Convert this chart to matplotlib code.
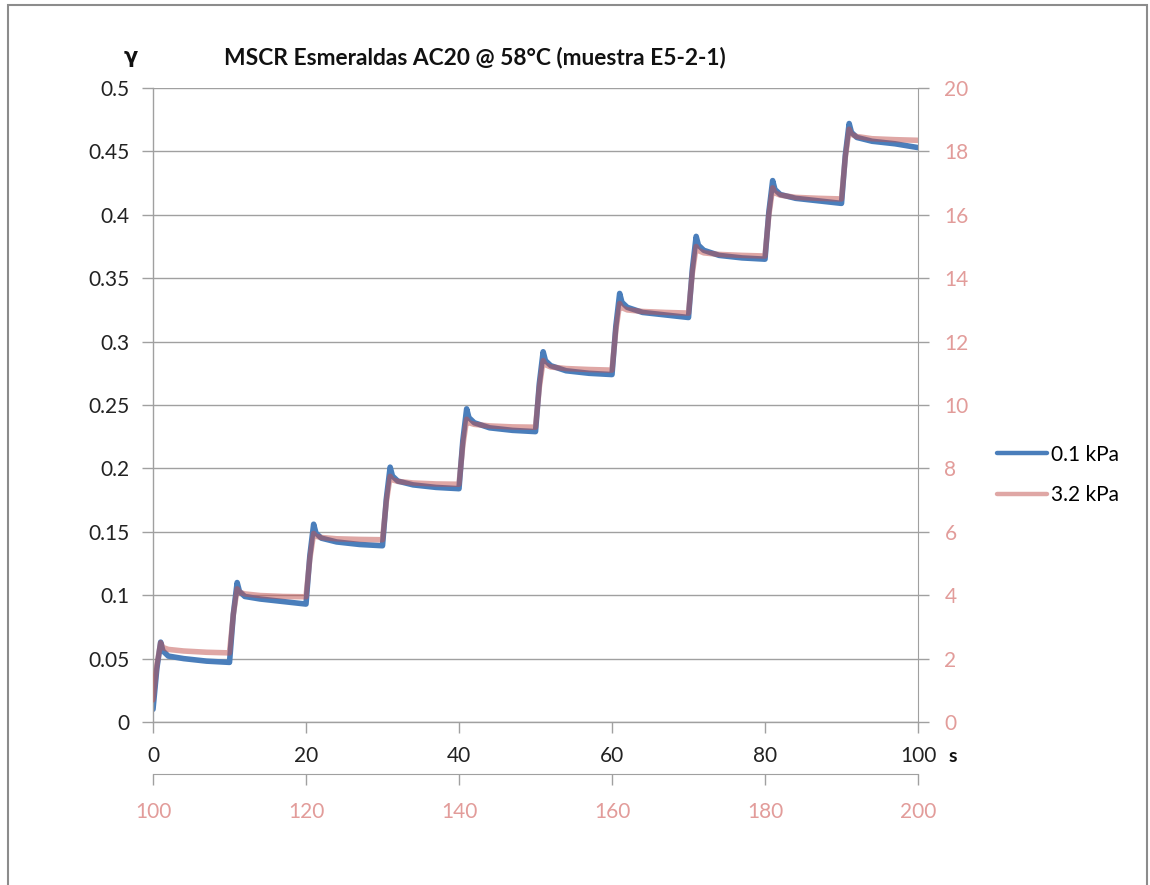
import matplotlib
matplotlib.use("Agg")
import matplotlib.pyplot as plt
from matplotlib.patches import Rectangle
import numpy as np

plt.rcParams['font.family'] = ['Lato', 'DejaVu Sans']

# Sample times inside each 10 s creep/recovery cycle (1 s load, 9 s rest)
cycle_offsets = [0, 0.5, 1.0, 1.3, 2.0, 4.0, 7.0]
cycle_starts_low = [0, 10, 20, 30, 40, 50, 60, 70, 80, 90]
cycle_starts_high = [100, 110, 120, 130, 140, 150, 160, 170, 180, 190]

# Shear strain at 0.1 kPa, one row per cycle
strain_01kpa = [
    [0.010, 0.042, 0.063, 0.056, 0.052, 0.050, 0.048],
    [0.047, 0.085, 0.110, 0.103, 0.099, 0.097, 0.095],
    [0.093, 0.131, 0.156, 0.149, 0.145, 0.142, 0.140],
    [0.139, 0.176, 0.201, 0.194, 0.190, 0.187, 0.185],
    [0.184, 0.222, 0.247, 0.240, 0.236, 0.232, 0.230],
    [0.229, 0.267, 0.292, 0.285, 0.281, 0.277, 0.275],
    [0.274, 0.312, 0.338, 0.331, 0.327, 0.323, 0.321],
    [0.319, 0.357, 0.383, 0.376, 0.372, 0.368, 0.366],
    [0.365, 0.402, 0.427, 0.420, 0.416, 0.413, 0.411],
    [0.409, 0.447, 0.472, 0.465, 0.461, 0.458, 0.456],
]
strain_01kpa_end = 0.453

# Shear strain at 3.2 kPa, one row per cycle
strain_32kpa = [
    [0.70, 1.78, 2.50, 2.35, 2.29, 2.24, 2.20],
    [2.18, 3.39, 4.20, 4.09, 4.04, 3.99, 3.96],
    [3.95, 5.15, 5.95, 5.86, 5.82, 5.78, 5.76],
    [5.75, 6.95, 7.75, 7.64, 7.59, 7.54, 7.51],
    [7.50, 8.73, 9.55, 9.44, 9.39, 9.34, 9.31],
    [9.30, 10.56, 11.40, 11.27, 11.20, 11.15, 11.12],
    [11.10, 12.36, 13.20, 13.07, 13.00, 12.95, 12.92],
    [12.90, 14.16, 15.00, 14.87, 14.80, 14.75, 14.72],
    [14.70, 15.99, 16.85, 16.69, 16.62, 16.55, 16.52],
    [16.50, 17.82, 18.70, 18.54, 18.47, 18.40, 18.37],
]
strain_32kpa_end = 18.35

left_yticks = [0, 0.05, 0.1, 0.15, 0.2, 0.25, 0.3, 0.35, 0.4, 0.45, 0.5]
left_ylabels = ["0", "0.05", "0.1", "0.15", "0.2", "0.25", "0.3", "0.35", "0.4", "0.45", "0.5"]
right_yticks = [0, 2, 4, 6, 8, 10, 12, 14, 16, 18, 20]
low_xticks = [0, 20, 40, 60, 80, 100]
high_xticks = [100, 120, 140, 160, 180, 200]

title = "MSCR Esmeraldas AC20 @ 58°C (muestra E5-2-1)"
label_low = "0.1 kPa"
label_high = "3.2 kPa"

BLUE = "#4A7EBB"
RED = "#C0504D"
PINK_TXT = "#E29C9A"
GRAY = "#A0A0A0"
TXT = "#222222"
TICK_FS = 15


def flatten(starts, rows, end_value):
    t, v = [], []
    for s, row in zip(starts, rows):
        for off, val in zip(cycle_offsets, row):
            t.append(s + off)
            v.append(val)
    t.append(starts[-1] + 10)
    v.append(end_value)
    return np.array(t), np.array(v)


t_low, y_low = flatten(cycle_starts_low, strain_01kpa, strain_01kpa_end)
t_high, y_high = flatten(cycle_starts_high, strain_32kpa, strain_32kpa_end)

W, H = 1150, 885
fig = plt.figure(figsize=(W / 100, H / 100), dpi=100)
rect = [153 / W, 1 - 722 / H, (918 - 153) / W, (722 - 88) / H]

ax = fig.add_axes(rect)
ax2 = fig.add_axes(rect, label="high_stress")
ax2.patch.set_visible(False)

# primary axes: 0.1 kPa
ax.plot(t_low, y_low, color=BLUE, lw=4.0, solid_joinstyle="round",
        solid_capstyle="round", label=label_low)
ax.set_xlim(0, 100)
ax.set_ylim(0, 0.5)
ax.set_yticks(left_yticks)
ax.set_yticklabels(left_ylabels)
ax.set_xticks(low_xticks)
ax.yaxis.grid(True, color=GRAY, lw=1.0)
ax.set_axisbelow(True)
for side in ("top", "right"):
    ax.spines[side].set_visible(False)
for side in ("left", "bottom"):
    ax.spines[side].set_color(GRAY)
    ax.spines[side].set_linewidth(1.0)
ax.tick_params(axis="y", direction="out", length=8, width=1.0, color=GRAY,
               labelsize=TICK_FS, labelcolor=TXT, pad=9)
ax.tick_params(axis="x", direction="out", length=8, width=1.0, color=GRAY,
               labelsize=TICK_FS, labelcolor=TXT, pad=9)

# secondary axes: 3.2 kPa
ax2.plot(t_high, y_high, color=RED, alpha=0.5, lw=4.0, solid_joinstyle="round",
         solid_capstyle="round", label=label_high)
ax2.set_xlim(100, 200)
ax2.set_ylim(0, 20)
ax2.set_xticks(high_xticks)
ax2.set_yticks(right_yticks)
ax2.yaxis.tick_right()
ax2.xaxis.tick_bottom()
for side in ("top", "left"):
    ax2.spines[side].set_visible(False)
ax2.spines["right"].set_color(GRAY)
ax2.spines["bottom"].set_color(GRAY)
ax2.spines["bottom"].set_position(("outward", 52 * 72 / 100))
ax2.tick_params(axis="y", direction="out", length=8, width=1.0, color=GRAY,
                labelsize=TICK_FS, labelcolor=PINK_TXT, pad=11)
ax2.tick_params(axis="x", direction="out", length=8, width=1.0, color=GRAY,
                labelsize=TICK_FS, labelcolor=PINK_TXT, pad=12)

# titles and unit labels
fig.text(475 / W, 1 - 57 / H, title, ha="center", va="center",
         fontsize=16.4, fontweight="bold", color="#111111")
fig.text(131 / W, 1 - 57 / H, "γ", ha="center", va="center",
         fontsize=15, fontweight="bold", color="#111111",
         family=["DejaVu Sans"])
fig.text(953 / W, 1 - 757 / H, "s", ha="center", va="center",
         fontsize=14, fontweight="bold", color="#111111")

# legend
h1, l1 = ax.get_legend_handles_labels()
h2, l2 = ax2.get_legend_handles_labels()
leg = fig.legend(h1 + h2, l1 + l2, loc="center left",
                 bbox_to_anchor=(978 / W, 1 - 475 / H), frameon=False,
                 fontsize=TICK_FS, handlelength=2.4, handletextpad=0.2,
                 labelspacing=1.0)
for line in leg.get_lines():
    line.set_linewidth(3.2)

# outer frame
fig.patches.append(Rectangle((8 / W, -0.05), (1147 - 8) / W, 1.05 - 5 / H,
                             transform=fig.transFigure, fill=False,
                             edgecolor="#8C8C8C", lw=1.5))

fig.savefig("out.png", dpi=100)
